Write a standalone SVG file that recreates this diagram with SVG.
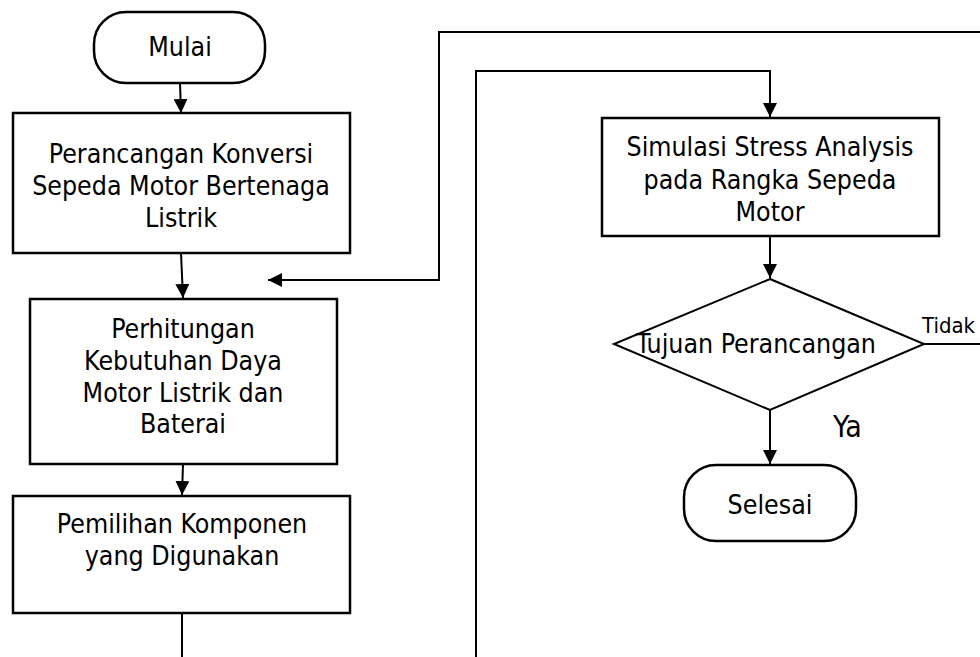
<svg xmlns="http://www.w3.org/2000/svg" width="980" height="657" viewBox="0 0 980 657">
<style>
  .box { fill: #ffffff; stroke: #000000; stroke-width: 2.5; }
  .dia { fill: #ffffff; stroke: #000000; stroke-width: 2; }
  .ln { fill: none; stroke: #000000; stroke-width: 2; }
  text { font-family: "DejaVu Sans Condensed", "DejaVu Sans", "Liberation Sans", sans-serif; font-stretch: condensed; font-size: 26.5px; fill: #000000; }
  .c { text-anchor: middle; }
</style>
<defs>
  <marker id="ah" markerUnits="userSpaceOnUse" markerWidth="14" markerHeight="14" refX="14" refY="7" orient="auto" viewBox="0 0 14 14">
    <path d="M0,0 L14,7 L0,14 z" fill="#000000"/>
  </marker>
</defs>
<rect width="980" height="657" fill="#ffffff"/>

<g id="connectors">
  <path class="ln" d="M180,83 L181,113" marker-end="url(#ah)"/>
  <path class="ln" d="M181,253 L183,298" marker-end="url(#ah)"/>
  <path class="ln" d="M183,464 L182,495" marker-end="url(#ah)"/>
  <path class="ln" d="M182,613 L182,657"/>
  <path class="ln" d="M980,32 L439,32 L439,280 L268,280" marker-end="url(#ah)"/>
  <path class="ln" d="M476,657 L476,71 L770,71 L770,117" marker-end="url(#ah)"/>
  <path class="ln" d="M770,236 L770,278" marker-end="url(#ah)"/>
  <path class="ln" d="M924,344 L980,344"/>
  <path class="ln" d="M770,410 L770,464" marker-end="url(#ah)"/>
</g>

<g id="mulai">
  <rect class="box" x="94" y="12" width="171" height="71" rx="32" ry="32"/>
  <text class="c" x="180" y="56">Mulai</text>
</g>

<g id="perancangan">
  <rect class="box" x="13" y="113" width="337" height="140"/>
  <text class="c" x="181" y="163">Perancangan Konversi</text>
  <text class="c" x="181" y="195">Sepeda Motor Bertenaga</text>
  <text class="c" x="181" y="227">Listrik</text>
</g>

<g id="perhitungan">
  <rect class="box" x="30" y="299" width="307" height="165"/>
  <text class="c" x="183" y="338">Perhitungan</text>
  <text class="c" x="183" y="370">Kebutuhan Daya</text>
  <text class="c" x="183" y="402">Motor Listrik dan</text>
  <text class="c" x="183" y="433">Baterai</text>
</g>

<g id="pemilihan">
  <rect class="box" x="13" y="496" width="337" height="117"/>
  <text class="c" x="182" y="533">Pemilihan Komponen</text>
  <text class="c" x="182" y="565">yang Digunakan</text>
</g>

<g id="simulasi">
  <rect class="box" x="602" y="118" width="337" height="118"/>
  <text class="c" x="770" y="156">Simulasi Stress Analysis</text>
  <text class="c" x="770" y="189">pada Rangka Sepeda</text>
  <text class="c" x="770" y="221">Motor</text>
</g>

<g id="tujuan">
  <polygon class="dia" points="770,279 924,344 770,410 614,344"/>
  <text class="c" x="756" y="353">Tujuan Perancangan</text>
</g>

<g id="selesai">
  <rect class="box" x="684" y="465" width="172" height="76" rx="32" ry="32"/>
  <text class="c" x="770" y="514">Selesai</text>
</g>

<g id="labels">
  <text x="922" y="333" style="font-size:22px">Tidak</text>
  <text x="833" y="437" style="font-size:30px">Ya</text>
</g>
</svg>
